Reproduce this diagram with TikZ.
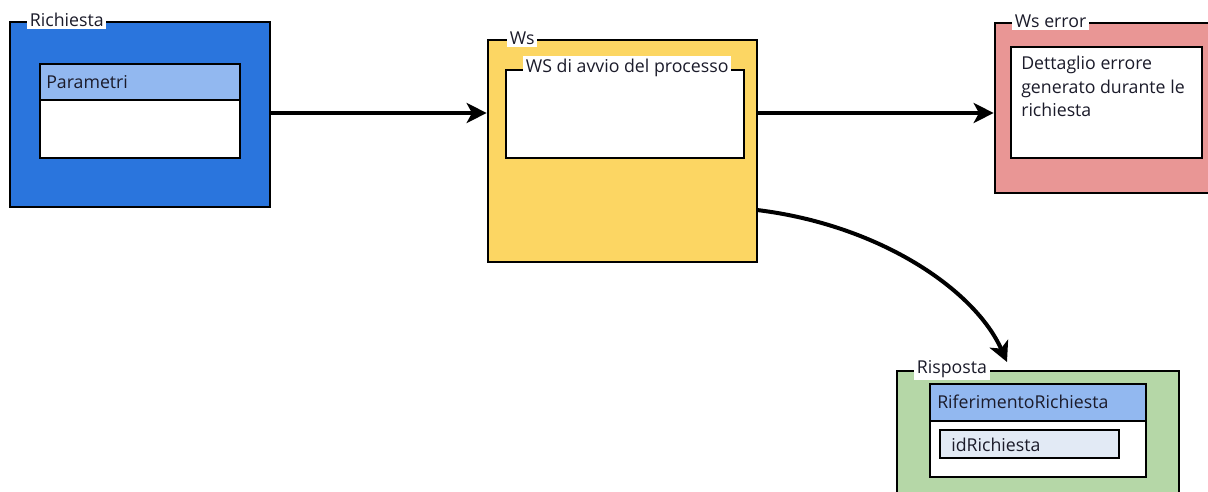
\documentclass[tikz,border=0pt]{standalone}
\usepackage{fontspec}
\setmainfont{Open Sans}
\usetikzlibrary{arrows.meta,fit,calc}

\definecolor{richiestablue}{HTML}{2A75DD}
\definecolor{headerblue}{HTML}{92B8F0}
\definecolor{wsyellow}{HTML}{FCD663}
\definecolor{errorpink}{HTML}{E99695}
\definecolor{rispostagreen}{HTML}{B5D7A7}
\definecolor{fieldgrey}{HTML}{E2EAF5}
\definecolor{inkblack}{HTML}{1B1B2A}

\begin{document}
\begin{tikzpicture}[x=0.75pt, y=-0.75pt,
	panel/.style={draw=black, line width=2pt, inner sep=0pt},
	tag/.style={fill=white, inner sep=2pt, anchor=west, text=inkblack, font=\fontsize{13.3}{17.5}\selectfont},
	txt/.style={inner sep=0pt, anchor=west, text=inkblack, font=\fontsize{13.3}{17.5}\selectfont},
	flow/.style={line width=3pt, -{Stealth[length=15pt, width=15pt, inset=4pt]}}]
			%%%%% START %%%%%
			\clip (0, 0) rectangle (1208, 492);
			
			% Richiesta
			\node[panel, fill=richiestablue, fit={(10, 22) (270, 207)}] (richiesta) {};
			\node[tag] (richiestatag) at (27, 20) {Richiesta};
			\node[panel, fill=headerblue, fit={(40, 64) (240, 100)}] (parametri) {};
			\node[panel, fill=white, fit={(40, 100) (240, 158)}] (parametribody) {};
			\node[txt] (parametritxt) at (46, 82) {Parametri};
			
			% Ws
			\node[panel, fill=wsyellow, fit={(488, 40) (757, 262)}] (ws) {};
			\node[tag] (wstag) at (507, 38) {Ws};
			\node[panel, fill=white, fit={(506, 70) (744, 158)}] (wsavvio) {};
			\node[tag] (wsavviotag) at (523, 68) {WS di avvio del processo};
			
			% Ws error
			\node[panel, fill=errorpink, fit={(995, 23) (1230, 193)}] (wserror) {};
			\node[tag] (wserrortag) at (1012, 21) {Ws error};
			\node[panel, fill=white, fit={(1011, 47) (1202, 158)}] (dettaglio) {};
			\node[txt, anchor=north west, align=left] (dettagliotxt) at (1021, 56) {Dettaglio errore\\generato durante le\\richiesta};
			
			% Risposta
			\node[panel, fill=rispostagreen, fit={(897, 371) (1179, 520)}] (risposta) {};
			\node[tag] (rispostatag) at (914, 369) {Risposta};
			\node[panel, fill=headerblue, fit={(930, 384) (1146, 421)}] (riferimento) {};
			\node[panel, fill=white, fit={(930, 421) (1146, 477)}] (riferimentobody) {};
			\node[txt] (riferimentotxt) at (937, 402) {RiferimentoRichiesta};
			\node[panel, fill=fieldgrey, fit={(940, 430) (1119, 458)}] (idrichiesta) {};
			\node[txt] (idrichiestatxt) at (951, 445) {idRichiesta};
			
			% connectors
			\coordinate (wsout) at (757, 210);
			\coordinate (rispostain) at (1007, 362);
			\draw[flow] (richiesta.east |- 0, 113) -- (ws.west |- 0, 113);
			\draw[flow] (ws.east |- 0, 113) -- (wserror.west |- 0, 113);
			\draw[flow] (wsout) .. controls (880, 225) and (975, 290) .. (rispostain);
			
			%%%%% END %%%%%
\end{tikzpicture}
\end{document}
